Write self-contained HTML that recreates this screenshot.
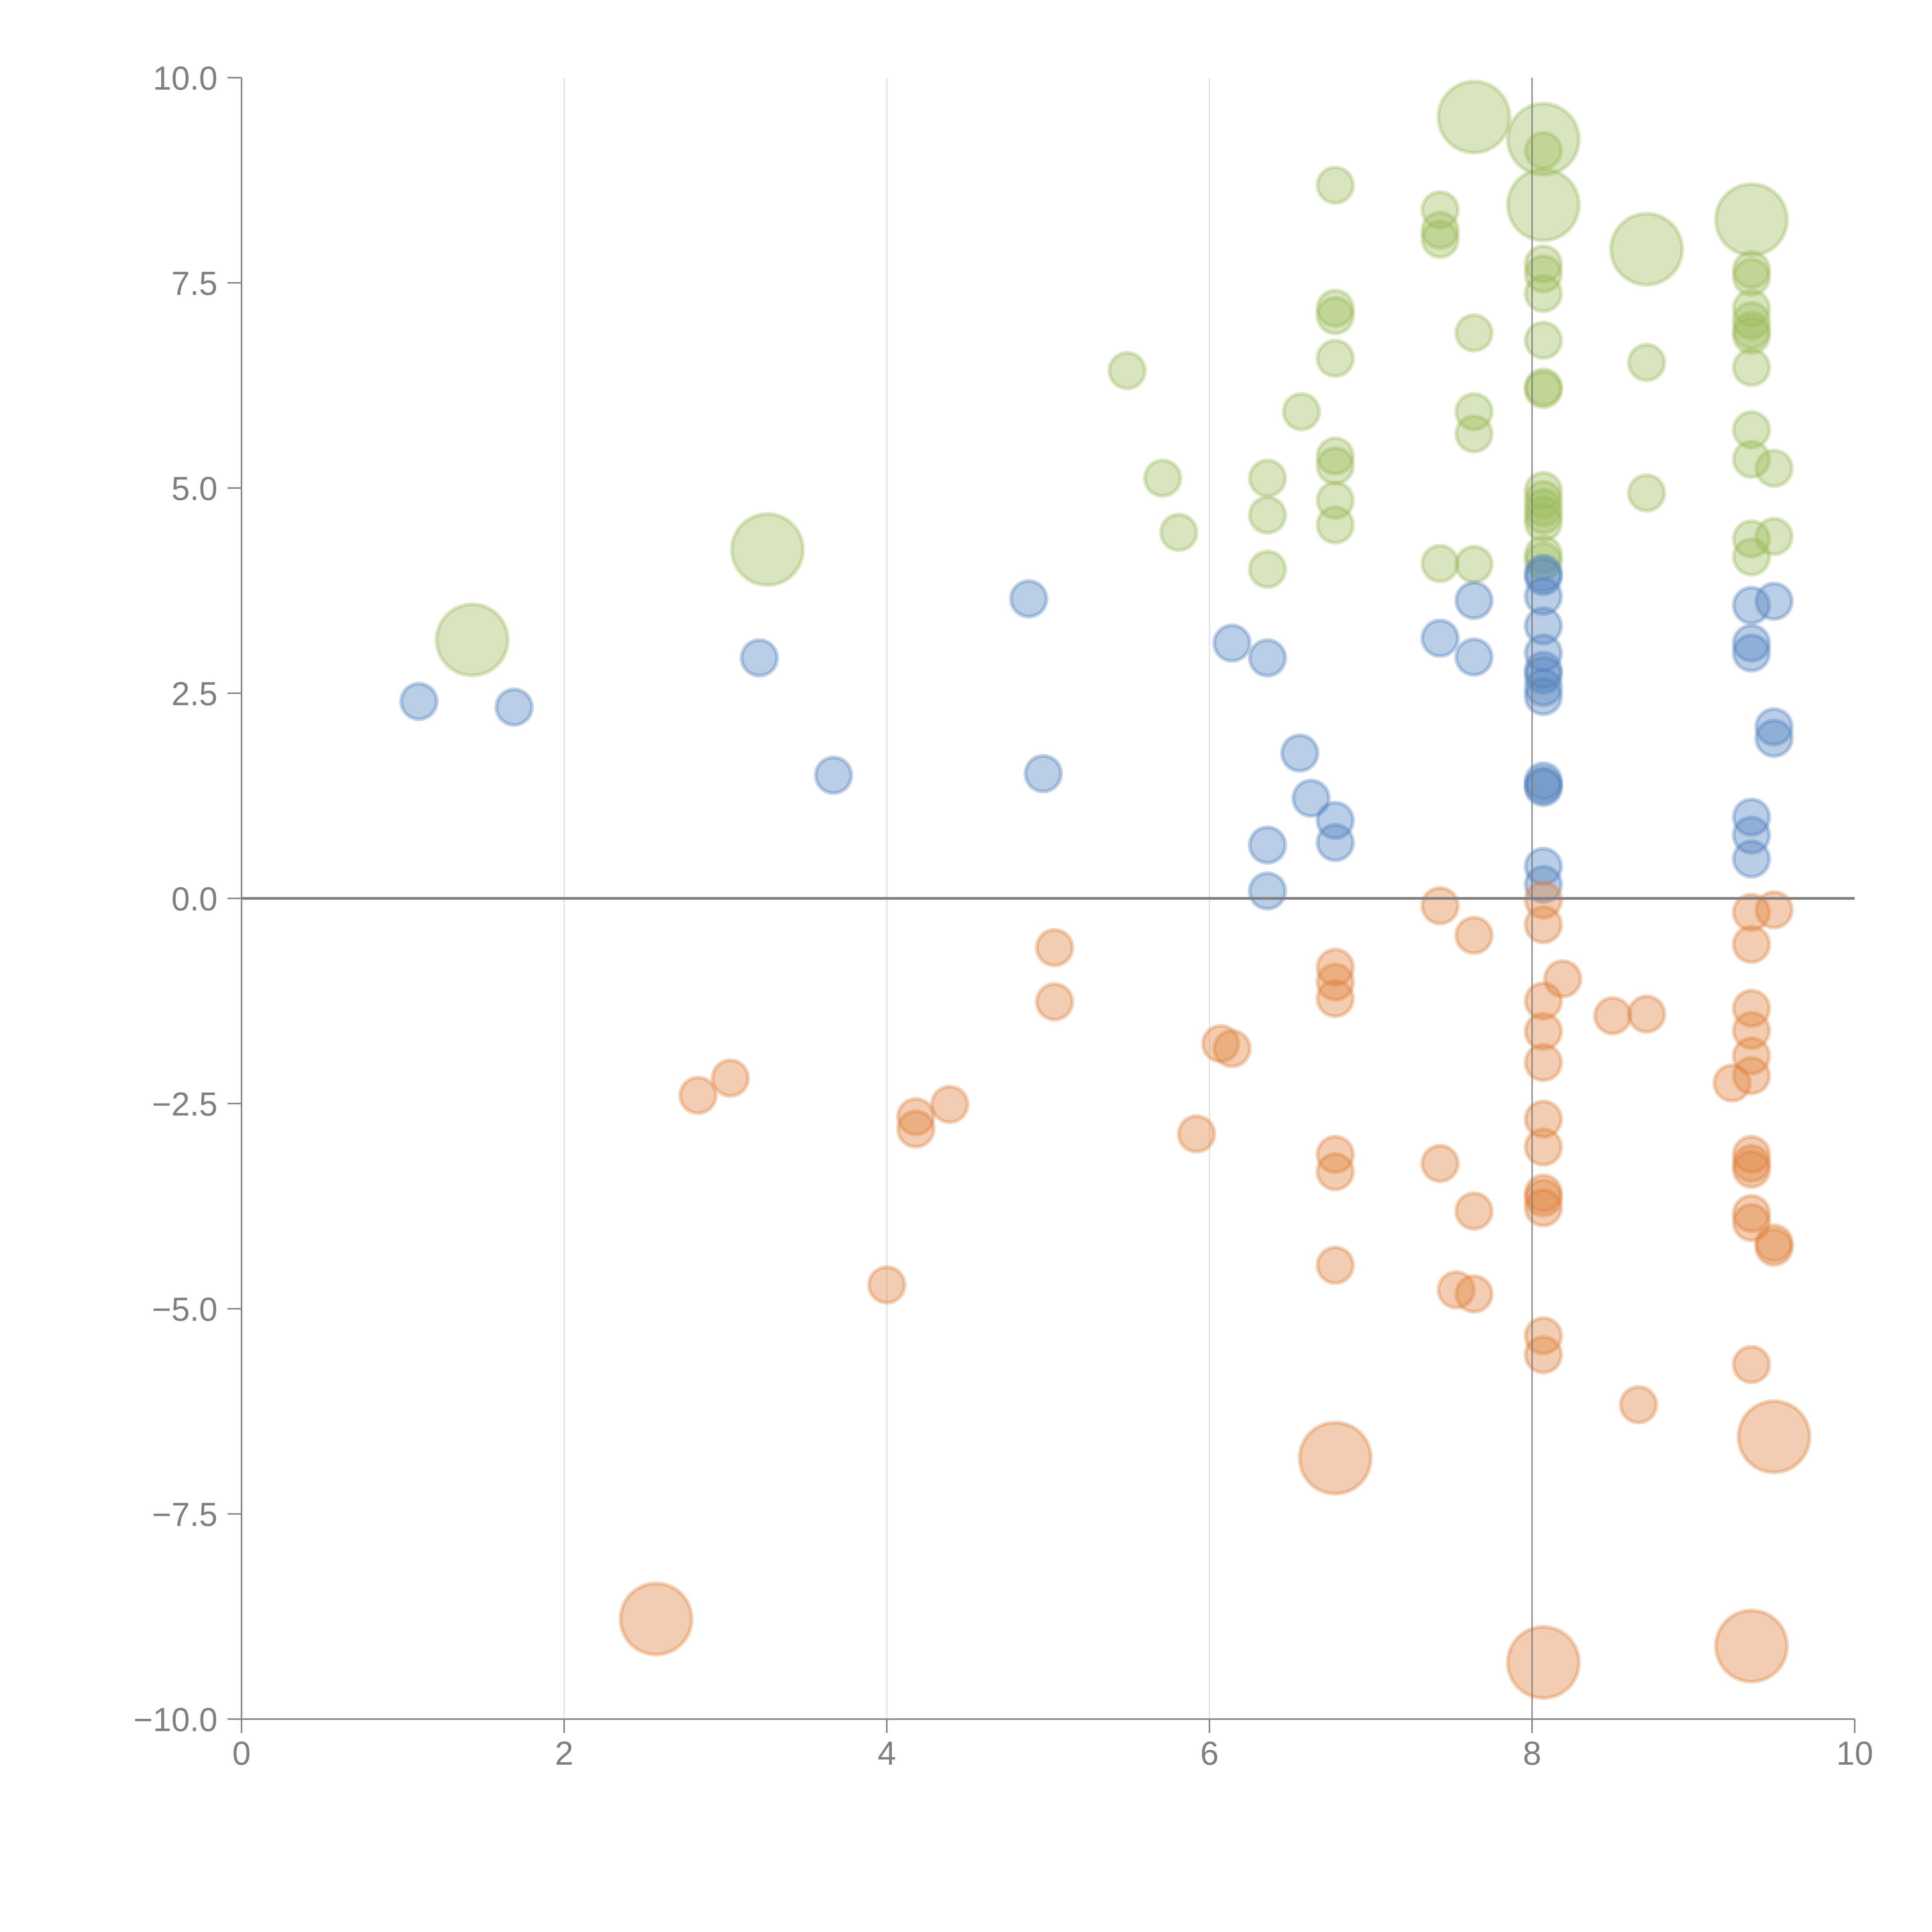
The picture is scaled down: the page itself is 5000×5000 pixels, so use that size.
<!DOCTYPE html>
<html><head><meta charset="utf-8"><style>html,body{margin:0;padding:0;background:#fff;width:5000px;height:5000px;overflow:hidden}svg{display:block}</style></head>
<body>
<svg id="chart" width="5000" height="5000" xmlns="http://www.w3.org/2000/svg" style="font-family:'Liberation Sans',sans-serif">
<g id="grid"></g>
<g id="bubbles"></g>
<g id="axes"></g>
</svg>
<script>
const xTicks = [0, 2, 4, 6, 8, 10];
const yTicks = [-10, -7.5, -5, -2.5, 0, 2.5, 5, 7.5, 10];
const xTickLabels = ["0","2","4","6","8","10"];
const yTickLabels = ["\u221210.0","\u22127.5","\u22125.0","\u22122.5","0.0","2.5","5.0","7.5","10.0"];

const greenX = [1.43,3.26,5.49,5.71,5.81,6.36,6.36,6.36,6.57,6.78,6.78,6.78,6.78,6.78,6.78,6.78,6.78,7.43,7.43,7.43,7.43,7.64,7.64,7.64,7.64,7.64,8.07,8.07,8.07,8.07,8.07,8.07,8.07,8.07,8.07,8.07,8.07,8.07,8.07,8.07,8.07,8.07,8.71,8.71,8.71,9.36,9.36,9.36,9.36,9.36,9.36,9.36,9.36,9.36,9.36,9.50,9.36,9.36,9.50];
const greenY = [3.15,4.25,6.43,5.12,4.46,5.12,4.67,4.01,5.93,8.69,7.19,7.10,6.58,5.39,5.27,4.85,4.55,8.39,8.14,8.03,4.08,9.52,6.89,5.93,5.66,4.07,9.25,9.11,8.45,7.73,7.61,7.37,6.80,6.23,6.20,4.97,4.86,4.76,4.67,4.58,4.19,4.11,7.91,6.53,4.94,8.27,7.66,7.57,7.19,7.04,6.92,6.86,6.47,5.71,5.35,5.24,4.38,4.16,4.41];
const greenS = [2,2,1,1,1,1,1,1,1,1,1,1,1,1,1,1,1,1,1,1,1,2,1,1,1,1,2,1,2,1,1,1,1,1,1,1,1,1,1,1,1,1,2,1,1,2,1,1,1,1,1,1,1,1,1,1,1,1,1];

const blueX = [1.10,1.69,3.21,3.67,4.88,4.97,6.14,6.36,6.36,6.36,6.56,6.63,6.78,6.78,7.43,7.64,7.64,8.07,8.07,8.07,8.07,8.07,8.07,8.07,8.07,8.07,8.07,8.07,8.07,8.07,8.07,9.36,9.36,9.36,9.50,9.50,9.50,9.36,9.36,9.36];
const blueY = [2.40,2.33,2.93,1.50,3.65,1.52,3.11,2.93,0.65,0.09,1.77,1.22,0.95,0.68,3.17,3.63,2.94,3.96,3.92,3.68,3.32,2.99,2.78,2.72,2.57,2.46,1.43,1.38,1.35,0.39,0.17,3.57,3.11,2.99,3.62,2.09,1.95,0.99,0.77,0.48];
const blueS = blueX.map(() => 1);

const orangeX = [2.57,2.83,3.03,4.00,4.18,4.18,4.39,5.04,5.04,5.92,6.07,6.14,6.78,6.78,6.78,6.78,6.78,6.78,6.78,7.43,7.43,7.53,7.64,7.64,7.64,8.07,8.07,8.07,8.07,8.07,8.07,8.07,8.07,8.07,8.07,8.07,8.07,8.07,8.19,8.50,8.71,8.66,9.24,9.36,9.36,9.36,9.36,9.36,9.36,9.36,9.36,9.36,9.36,9.36,9.36,9.36,9.50,9.50,9.50,9.50];
const orangeY = [-8.78,-2.40,-2.19,-4.71,-2.66,-2.81,-2.51,-0.60,-1.26,-2.87,-1.77,-1.83,-0.84,-1.02,-1.22,-3.12,-3.33,-4.47,-6.82,-0.09,-3.23,-4.77,-0.45,-3.81,-4.82,-0.02,-0.32,-1.25,-1.62,-2.00,-2.69,-3.03,-3.59,-3.65,-3.77,-5.33,-5.56,-9.31,-0.98,-1.43,-1.41,-6.17,-2.25,-0.17,-0.56,-1.34,-1.61,-1.92,-2.16,-3.12,-3.23,-3.30,-3.84,-3.95,-5.68,-9.11,-0.14,-4.20,-4.25,-6.56];
const orangeS = [2,1,1,1,1,1,1,1,1,1,1,1,1,1,1,1,1,1,2,1,1,1,1,1,1,1,1,1,1,1,1,1,1,1,1,1,1,2,1,1,1,1,1,1,1,1,1,1,1,1,1,1,1,1,1,2,1,1,1,2];

const NS = "http://www.w3.org/2000/svg";
const X0 = 625, X1 = 4800, Y0 = 4449, Y1 = 201;
function sx(v){ return X0 + (v - 0) / 10 * (X1 - X0); }
function sy(v){ return Y0 - (v + 10) / 20 * (Y0 - Y1); }
function sr(s){ return s === 2 ? 92 : 46; }
function mk(tag, attrs, parent){
  const e = document.createElementNS(NS, tag);
  for (const k in attrs) e.setAttribute(k, attrs[k]);
  parent.appendChild(e);
  return e;
}
const grid = document.getElementById('grid');
const bub = document.getElementById('bubbles');
const axes = document.getElementById('axes');

xTicks.forEach((t) => {
  if (t > 0 && t < 8) {
    const l = mk('line', {x1: sx(t), x2: sx(t), y1: Y1, y2: Y0, stroke: '#dedede', 'stroke-width': 3}, grid);
    
    
  }
});

function drawSeries(xs, ys, ss, color, name){
  const g = mk('g', {}, bub);
  
  
  for (let i = 0; i < xs.length; i++) {
    const c = mk('circle', {cx: sx(xs[i]), cy: sy(ys[i]), r: sr(ss[i]), fill: color, 'fill-opacity': 0.4, stroke: color, 'stroke-opacity': 0.35, 'stroke-width': 10}, g);
    
    
  }
}
drawSeries(greenX, greenY, greenS, '#9bbb59', 'green');
drawSeries(blueX, blueY, blueS, '#4f81bd', 'blue');
drawSeries(orangeX, orangeY, orangeS, '#e0823d', 'orange');

const g8 = mk('line', {x1: sx(8), x2: sx(8), y1: Y1, y2: Y0, stroke: '#777', 'stroke-width': 3}, axes);



const zl = mk('line', {x1: X0, x2: X1, y1: sy(0), y2: sy(0), stroke: '#808080', 'stroke-width': 7}, axes);



const ya = mk('line', {x1: X0, x2: X0, y1: Y1, y2: Y0, stroke: '#888', 'stroke-width': 4}, axes);


const xa = mk('line', {x1: X0, x2: X1, y1: Y0, y2: Y0, stroke: '#888', 'stroke-width': 4}, axes);



yTicks.forEach((t, i) => {
  const tk = mk('line', {x1: X0 - 36, x2: X0, y1: sy(t), y2: sy(t), stroke: '#888', 'stroke-width': 4}, axes);
  
  
  const tx = mk('text', {x: 563, y: sy(t) + 31, 'text-anchor': 'end', 'font-size': 86, fill: '#808080'}, axes);
  tx.textContent = yTickLabels[i];
  
  
});
xTicks.forEach((t, i) => {
  const tk = mk('line', {x1: sx(t), x2: sx(t), y1: Y0, y2: Y0 + 36, stroke: '#888', 'stroke-width': 4}, axes);
  
  
  const tx = mk('text', {x: sx(t), y: 4567, 'text-anchor': 'middle', 'font-size': 86, fill: '#808080'}, axes);
  tx.textContent = xTickLabels[i];
  
  
});
</script>
</body></html>
